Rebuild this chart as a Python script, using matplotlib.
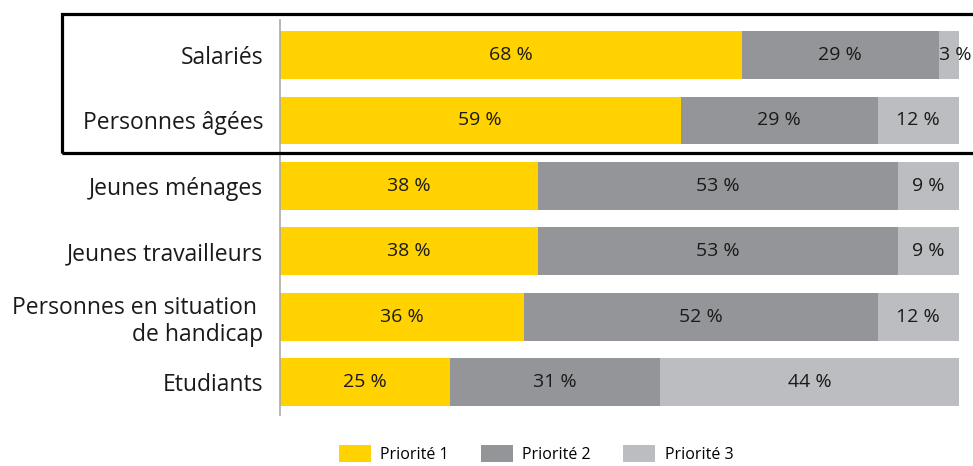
import matplotlib.pyplot as plt
from matplotlib.patches import Patch, Rectangle

plt.rcParams['font.family'] = ['Open Sans', 'DejaVu Sans']

categories = ['Salariés', 'Personnes âgées', 'Jeunes ménages', 'Jeunes travailleurs',
              'Personnes en situation \nde handicap', 'Etudiants']
p1 = [68, 59, 38, 38, 36, 25]
p2 = [29, 29, 53, 53, 52, 31]
p3 = [3, 12, 9, 9, 12, 44]
series = ['Priorité 1', 'Priorité 2', 'Priorité 3']
colors = ['#FFD200', '#939598', '#BCBDC0']

W, H = 973, 466
fig = plt.figure(figsize=(W / 100, H / 100), dpi=100)
ax = fig.add_axes([280 / W, 1 - 415 / H, (959 - 280) / W, (415 - 20) / H])

y = list(range(len(categories)))
left = [0] * len(categories)
for vals, col in zip([p1, p2, p3], colors):
    ax.barh(y, vals, left=left, height=0.73, color=col, edgecolor='none')
    for i, v in enumerate(vals):
        if v < 5:
            ax.text(left[i] + 0.1, i, f'{v} %', ha='left', va='center', fontsize=14, color='#1a1a1a')
        else:
            ax.text(left[i] + v / 2, i, f'{v} %', ha='center', va='center', fontsize=14, color='#1a1a1a')
    left = [a + b for a, b in zip(left, vals)]

ax.set_xlim(0, 100)
ax.set_ylim(5.5, -0.535)
ax.set_yticks(y)
ax.set_yticklabels(categories, fontsize=16.5, color='#1a1a1a', linespacing=1.2)
ax.tick_params(axis='y', length=0, pad=12)
ax.set_xticks([])
for s in ['top', 'right', 'bottom']:
    ax.spines[s].set_visible(False)
ax.spines['left'].set_color('#aaaaaa')
ax.spines['left'].set_linewidth(1.2)

# highlight box around the first two rows
fig.patches.append(Rectangle((62 / W, 1 - 153 / H), (976 - 62) / W, (153 - 14) / H,
                             transform=fig.transFigure, fill=False, edgecolor='black',
                             linewidth=2.3, clip_on=False))

handles = [Patch(facecolor=c, edgecolor='none') for c in colors]
fig.legend(handles, series, loc='center', bbox_to_anchor=(536 / W, 1 - 454 / H), ncol=3,
           frameon=False, fontsize=11.5, handlelength=2.0, handleheight=1.2,
           columnspacing=2.0, handletextpad=0.6)

fig.savefig('out.png', dpi=100)
